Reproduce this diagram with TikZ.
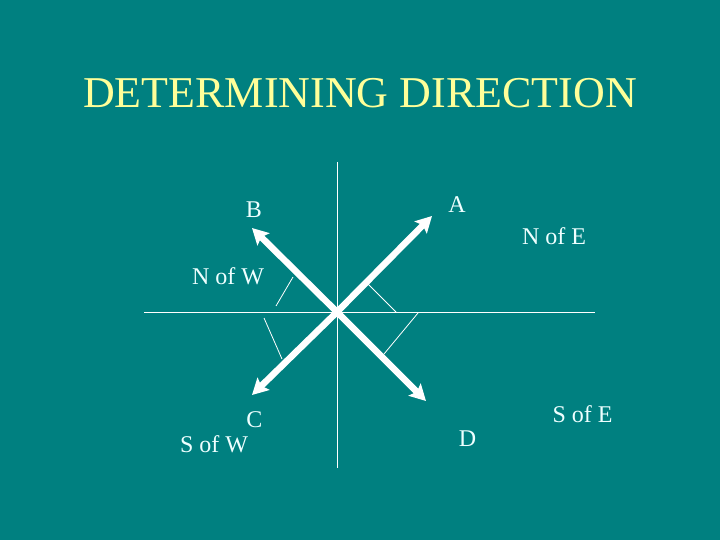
\documentclass[tikz,border=0pt]{standalone}
\usepackage{fontspec}
\setmainfont{Liberation Serif}
\usetikzlibrary{arrows.meta}
\definecolor{bg}{HTML}{008080}
\definecolor{titlec}{HTML}{FFFF99}
\definecolor{labc}{HTML}{EEFFFF}
\begin{document}
\begin{tikzpicture}[x=1pt,y=-1pt,
  lab/.style={text=labc,font=\fontsize{24}{28}\selectfont,anchor=base,inner sep=0pt},
  axis/.style={draw=white,line width=1pt},
  tick/.style={draw=white,line width=0.8pt},
  bigarrow/.style={draw=white,line width=6.5pt,-{Stealth[length=16pt,width=17pt,inset=3pt]}}]
\fill[bg] (0,0) rectangle (720,540);
\useasboundingbox (0,0) rectangle (720,540);
\node[text=titlec,font=\fontsize{44}{50}\selectfont,anchor=base,inner sep=0pt] (title) at (360,108) {DETERMINING DIRECTION};
% axes
\coordinate (O) at (337,312);
\coordinate (Nt) at (337,162);
\coordinate (St) at (337,468);
\coordinate (Wt) at (144,312);
\coordinate (Et) at (595,312);
\draw[axis] (Nt) -- (St);
\draw[axis] (Wt) -- (Et);
% angle markers
\coordinate (m1a) at (293,277); \coordinate (m1b) at (276,306);
\coordinate (m2a) at (368,284); \coordinate (m2b) at (396,312);
\coordinate (m3a) at (418,313); \coordinate (m3b) at (384,354);
\coordinate (m4a) at (264,318); \coordinate (m4b) at (282,359);
\draw[tick] (m1a) -- (m1b);
\draw[tick] (m2a) -- (m2b);
\draw[tick] (m3a) -- (m3b);
\draw[tick] (m4a) -- (m4b);
% arrows
\coordinate (tA) at (432,216);
\coordinate (tB) at (252,228);
\coordinate (tC) at (252,395);
\coordinate (tD) at (426,401);
\draw[bigarrow] (O) -- (tA);
\draw[bigarrow] (O) -- (tB);
\draw[bigarrow] (O) -- (tC);
\draw[bigarrow] (O) -- (tD);
% labels
\node[lab] (B) at (254,218) {B};
\node[lab] (A) at (457,213) {A};
\node[lab] (NE) at (554,244) {N of E};
\node[lab] (NW) at (228,284) {N of W};
\node[lab] (C) at (254.5,427) {C};
\node[lab] (SW) at (214,452) {S of W};
\node[lab] (D) at (467.5,446) {D};
\node[lab] (SE) at (582.5,422) {S of E};
\end{tikzpicture}
\end{document}
